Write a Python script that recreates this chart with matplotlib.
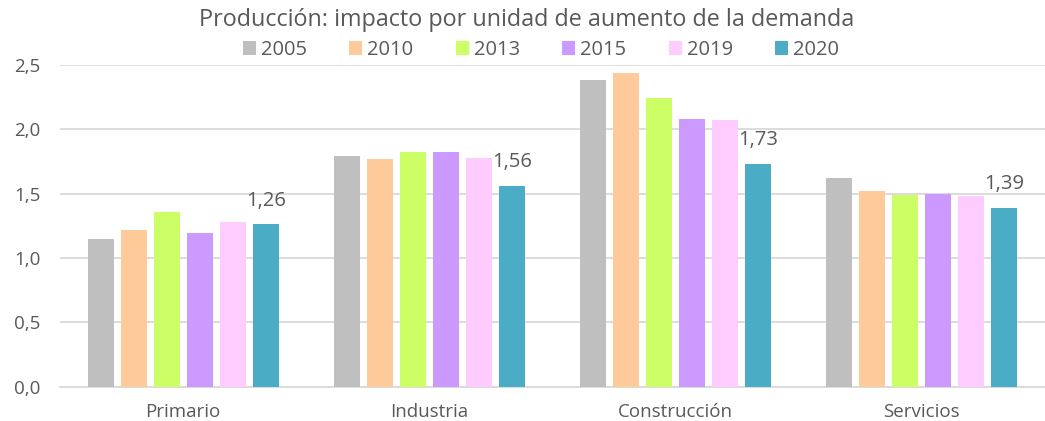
import matplotlib
matplotlib.use("Agg")
import matplotlib.pyplot as plt
import numpy as np

# Sector categories and years
sectors = ["Primario", "Industria", "Construcción", "Servicios"]
years = ["2005", "2010", "2013", "2015", "2019", "2020"]

# Production impact per unit increase in demand
v2005 = [1.15, 1.79, 2.38, 1.62]
v2010 = [1.22, 1.77, 2.44, 1.52]
v2013 = [1.36, 1.82, 2.24, 1.49]
v2015 = [1.19, 1.82, 2.08, 1.50]
v2019 = [1.28, 1.78, 2.07, 1.48]
v2020 = [1.26, 1.56, 1.73, 1.39]
series = [v2005, v2010, v2013, v2015, v2019, v2020]

colors = ["#BFBFBF", "#FFCA99", "#CCFF66", "#CC99FF", "#FFCCFF", "#4BACC6"]
yticks = [0.0, 0.5, 1.0, 1.5, 2.0, 2.5]

plt.rcParams["font.family"] = ["Open Sans", "DejaVu Sans"]
text_color = "#595959"

fig = plt.figure(figsize=(10.45, 4.21), dpi=100)
ax = fig.add_axes([60 / 1045, 1 - 386.5 / 421, 985 / 1045, (386.5 - 65) / 421])

x = np.arange(len(sectors))
pitch = 0.134
width = 0.106
for i, (yr, vals, c) in enumerate(zip(years, series, colors)):
    offs = (i - (len(years) - 1) / 2) * pitch
    bars = ax.bar(x + offs, vals, width=width, color=c, label=yr, zorder=3)
    if yr == "2020":
        for b, v in zip(bars, vals):
            ax.annotate(f"{v:.2f}".replace(".", ","),
                        (b.get_x() + b.get_width() / 2, v),
                        xytext=(0, 17), textcoords="offset points",
                        ha="center", va="center", fontsize=14.5, color=text_color)

ax.set_xlim(-0.5, len(sectors) - 0.5)
ax.set_ylim(0, 2.5)
ax.set_yticks(yticks)
ax.set_yticklabels([f"{t:.1f}".replace(".", ",") for t in yticks])
ax.set_xticks(x)
ax.set_xticklabels(sectors)
ax.yaxis.grid(True, color="#D9D9D9", linewidth=1.3, zorder=0)
ax.set_axisbelow(True)
for s in ["top", "right", "left"]:
    ax.spines[s].set_visible(False)
ax.spines["bottom"].set_color("#D9D9D9")
ax.spines["bottom"].set_linewidth(1.3)
ax.tick_params(axis="both", length=0, labelsize=13.5, colors=text_color)
ax.tick_params(axis="y", pad=14)
ax.tick_params(axis="x", pad=12)

fig.text(527 / 1045, 1 - 20 / 421, "Producción: impacto por unidad de aumento de la demanda",
         ha="center", va="center", fontsize=16.8, color=text_color)
leg = fig.legend(loc="center", bbox_to_anchor=(541 / 1045, 1 - 50 / 421), ncol=6,
                 frameon=False, fontsize=14.5, handlelength=0.65, handleheight=0.65,
                 handletextpad=0.25, columnspacing=2.1, labelcolor=text_color)

fig.savefig("out.png", dpi=100)
